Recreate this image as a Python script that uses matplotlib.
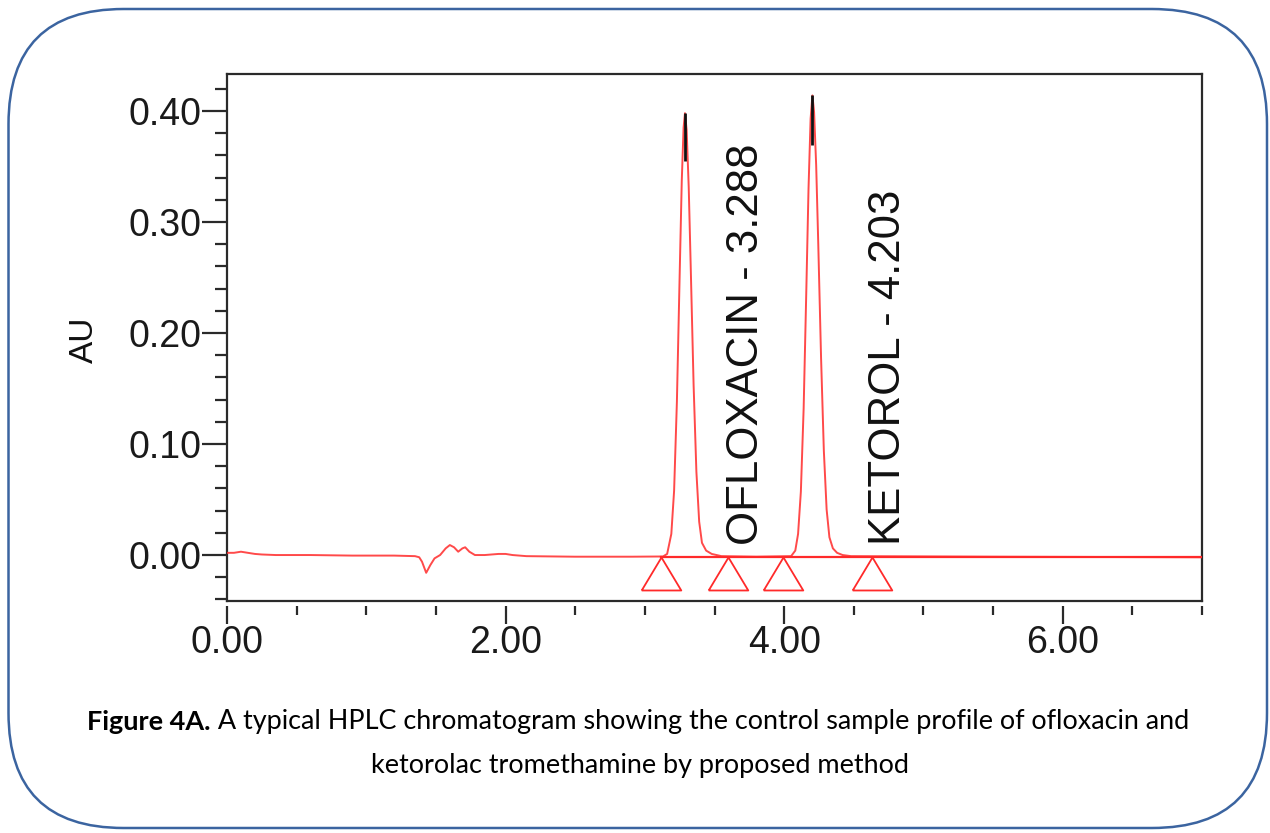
import matplotlib
matplotlib.use("Agg")
import matplotlib.pyplot as plt
import numpy as np
from matplotlib.patches import FancyBboxPatch
from matplotlib.lines import Line2D
from matplotlib.ticker import MultipleLocator, FixedLocator

# ---------------- data ----------------
trace_time = [0.00, 0.05, 0.10, 0.15, 0.20, 0.25, 0.35, 0.60, 0.90, 1.20, 1.35, 1.38,
              1.40, 1.43, 1.46, 1.49, 1.53, 1.57, 1.60, 1.63, 1.66, 1.69, 1.71, 1.74,
              1.78, 1.85, 1.95, 2.00, 2.05, 2.15, 2.50, 2.90, 3.13,
              3.16, 3.19, 3.21, 3.23, 3.25, 3.265, 3.278, 3.288, 3.30, 3.315, 3.33,
              3.35, 3.37, 3.39, 3.41, 3.44, 3.48, 3.55, 3.80, 4.05,
              4.08, 4.10, 4.12, 4.14, 4.16, 4.175, 4.19, 4.203, 4.215, 4.23, 4.245,
              4.265, 4.285, 4.305, 4.325, 4.35, 4.38, 4.42, 4.48, 5.50, 7.00]
trace_au = [0.002, 0.002, 0.003, 0.002, 0.001, 0.0005, 0.000, 0.000, -0.0005, -0.0005, -0.001, -0.002,
            -0.006, -0.016, -0.009, -0.003, 0.000, 0.006, 0.009, 0.007, 0.003, 0.006, 0.007, 0.003,
            0.000, 0.000, 0.001, 0.001, 0.000, -0.001, -0.0015, -0.0015, -0.0013,
            0.001, 0.019, 0.058, 0.138, 0.253, 0.337, 0.385, 0.398, 0.383, 0.331, 0.256,
            0.153, 0.075, 0.030, 0.011, 0.004, 0.001, -0.001, -0.0015, -0.001,
            0.004, 0.019, 0.057, 0.132, 0.243, 0.330, 0.393, 0.414, 0.399, 0.351, 0.280,
            0.178, 0.094, 0.041, 0.016, 0.006, 0.002, 0.000, -0.001, -0.0015, -0.002]

peak_names = ["OFLOXACIN", "KETOROL"]
peak_rt = [3.288, 4.203]
peak_apex = [0.398, 0.414]
peak_tip_start = [0.355, 0.369]
marker_times = [3.115, 3.60, 3.99, 4.63]

x_major = [0.0, 2.0, 4.0, 6.0]
x_labels = ["0.00", "2.00", "4.00", "6.00"]
y_major = [0.0, 0.1, 0.2, 0.3, 0.4]
y_labels = ["0.00", "0.10", "0.20", "0.30", "0.40"]

caption_bold = "Figure 4A."
caption_rest = " A typical HPLC chromatogram showing the control sample profile of ofloxacin and"
caption_line2 = "ketorolac tromethamine by proposed method"

# ---------------- figure ----------------
W, H = 1270, 833
fig = plt.figure(figsize=(W / 100, H / 100), dpi=100)
plt.rcParams['font.family'] = ['Liberation Sans', 'DejaVu Sans']

# rounded border
border = FancyBboxPatch((8.5 / 100, (H - 828) / 100), (1267 - 8.5) / 100, (828 - 9) / 100,
                        boxstyle="round,pad=0,rounding_size=1.15",
                        transform=fig.dpi_scale_trans, facecolor='none',
                        edgecolor='#3b64a0', linewidth=1.8, zorder=0)
fig.add_artist(border)

ax = fig.add_axes([227 / W, 1 - 601 / H, (1202 - 227) / W, (601 - 74) / H])
ax.set_xlim(0.0, 7.0)
ax.set_ylim(-0.0414, 0.4333)

red = '#ff2a2a'
ax.plot(trace_time, trace_au, color=red, lw=1.4, alpha=0.85, zorder=3)
# integration baseline
ax.plot([marker_times[0], 7.0], [-0.0015, -0.0015], color=red, lw=1.6, zorder=3)
# black apex tips
ax.vlines(peak_rt, peak_tip_start, peak_apex, color='#111111', lw=2.0, zorder=4)

# triangle markers (apex on the baseline)
tri = [(-0.6, -1.0), (0.6, -1.0), (0.0, 0.0), (-0.6, -1.0)]
ax.plot(marker_times, [-0.0015] * len(marker_times), linestyle='none', marker=tri,
        markersize=47.5, markerfacecolor='none', markeredgecolor=red,
        markeredgewidth=1.3, zorder=4)

# peak labels
label_x = [3.727, 4.75]
for name, rt, lx in zip(peak_names, peak_rt, label_x):
    ax.text(lx, 0.009, f"{name} - {rt:.3f}", rotation=90, ha='center', va='bottom',
            fontsize=31.5, color='#111111', zorder=5)

# axes styling
for s in ax.spines.values():
    s.set_color('#2a2a2a')
    s.set_linewidth(1.6)
ax.spines['bottom'].set_position(('outward', 3.6))
ax.spines['bottom'].set_visible(False)
ax.add_line(Line2D([0, 1], [0, 0], transform=ax.transAxes, color='#2a2a2a',
                   lw=1.6, clip_on=False, zorder=6))

ax.xaxis.set_major_locator(FixedLocator(x_major))
ax.set_xticklabels(x_labels)
ax.xaxis.set_minor_locator(MultipleLocator(0.5))
ax.yaxis.set_major_locator(FixedLocator(y_major))
ax.set_yticklabels(y_labels)
ax.yaxis.set_minor_locator(MultipleLocator(0.02))

ax.tick_params(axis='x', which='major', direction='out', length=13, width=1.6,
               color='#2a2a2a', labelsize=27, pad=1, labelcolor='#1a1a1a')
ax.tick_params(axis='x', which='minor', direction='out', length=6.5, width=1.6, color='#2a2a2a')
ax.tick_params(axis='y', which='major', direction='out', length=18, width=1.6,
               color='#2a2a2a', labelsize=27, pad=0, labelcolor='#1a1a1a')
ax.tick_params(axis='y', which='minor', direction='out', length=8.5, width=1.6, color='#2a2a2a')

fig.text(84 / W, 1 - 340 / H, "AU", rotation=90, ha='center', va='center', fontsize=24,
         color='#111111')

# caption (two fonts on line 1, centred as a whole)
cap_font = ['Lato', 'DejaVu Sans']
renderer = fig.canvas.get_renderer()
size = 19.0
t1 = fig.text(0, 0, caption_bold, fontsize=size, fontweight='bold', family=cap_font)
t2 = fig.text(0, 0, caption_rest, fontsize=size, family=cap_font)
w1 = t1.get_window_extent(renderer).width
w2 = t2.get_window_extent(renderer).width
scale = 1106.0 / (w1 + w2)
size *= scale
t1.set_fontsize(size)
t2.set_fontsize(size)
w1 = t1.get_window_extent(renderer).width
w2 = t2.get_window_extent(renderer).width
cx = 638
x0 = cx - (w1 + w2) / 2
y1 = 1 - 722 / H
t1.set_position((x0 / W, y1))
t1.set_va('center')
t2.set_position(((x0 + w1) / W, y1))
t2.set_va('center')
fig.text(640 / W, 1 - 765 / H, caption_line2, fontsize=size, family=cap_font,
         ha='center', va='center')

fig.savefig("out.png", dpi=100)
